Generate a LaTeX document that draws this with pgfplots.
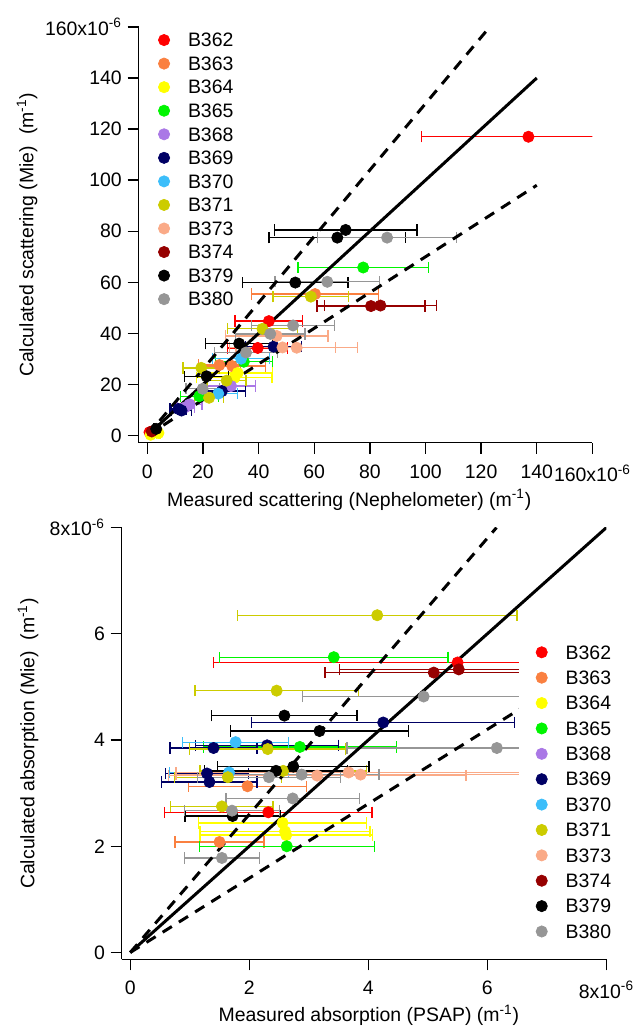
\documentclass[border=0pt]{standalone}
\usepackage{fontspec}
\setmainfont{Liberation Sans}
\usepackage{pgfplots}
\pgfplotsset{compat=1.18}

\definecolor{c362}{RGB}{255,0,0}
\definecolor{c363}{RGB}{250,128,64}
\definecolor{c364}{RGB}{255,255,0}
\definecolor{c365}{RGB}{0,245,0}
\definecolor{c368}{RGB}{170,120,230}
\definecolor{c369}{RGB}{0,0,100}
\definecolor{c370}{RGB}{60,190,250}
\definecolor{c371}{RGB}{204,204,0}
\definecolor{c373}{RGB}{250,170,135}
\definecolor{c374}{RGB}{150,0,0}
\definecolor{c379}{RGB}{0,0,0}
\definecolor{c380}{RGB}{150,150,150}

\pgfplotsset{
  igor/.style={
    scale only axis,
    axis lines*=left,
    tick align=outside,
    major tick length=6.6pt,
    axis line style={line width=0.8pt},
    every tick/.append style={black, line width=0.8pt},
    tick label style={font=\fontsize{11.7}{14}\selectfont},
    xticklabel style={yshift=-3pt},
    label style={font=\fontsize{11.7}{14}\selectfont},
    legend cell align=left,
    legend style={draw=none, fill=white, anchor=north west,
      font=\fontsize{11.7}{14}\selectfont,
      nodes={inner sep=1pt, text depth=0pt},
      /tikz/every odd column/.append style={column sep=10pt}},
  },
  pt/.style={only marks, mark=*, mark size=3.4pt, color=#1,
    mark options={solid, fill=#1, draw=#1},
    error bars/.cd, x dir=both, x explicit, error mark=|,
    error bar style={line width=0.8pt, color=#1, solid},
    error mark options={mark size=3.4pt, line width=0.8pt, color=#1}},
  oneline/.style={black, line width=1.8pt, forget plot},
  dline/.style={black, line width=1.8pt, dash pattern=on 6.5pt off 5pt, forget plot},
}

\begin{document}
\begin{tikzpicture}
\path (0pt,0pt) rectangle (381.6pt,-618.6pt);

% scattering
\begin{axis}[igor,
  at={(83.4pt,-266.4pt)}, anchor=south west,
  width=273pt, height=250.2pt,
  xmin=-3.12, xmax=160, ymin=-2.85, ymax=160,
  xtick={0,20,40,60,80,100,120,140,160},
  xticklabels={0,20,40,60,80,100,120,140,160x10\textsuperscript{-6}},
  ytick={0,20,40,60,80,100,120,140,160},
  yticklabels={0,20,40,60,80,100,120,140,160x10\textsuperscript{-6}},
  xlabel={Measured scattering (Nephelometer) (m\textsuperscript{-1})},
  ylabel={Calculated scattering (Mie)\ \ (m\textsuperscript{-1})},
  xlabel style={at={(axis description cs:0.464,-0.137)}, anchor=center},
  ylabel style={at={(axis description cs:-0.246,0.5)}, anchor=center},
  legend style={at={(axis cs:2.08,159.6)}, row sep=4.0pt},
]
\addplot[pt=c362] coordinates {(137,117) +- (38.4,0) (43.7,44.8) +- (12.2,0) (39.7,34.3) +- (10.8,0) (0.8,1.3) +- (0.3,0)};
\addlegendentry{B362}
\addplot[pt=c363] coordinates {(60.3,55.4) +- (22.8,0) (30.5,27.2) +- (12,0) (25.9,27.6) +- (7.5,0)};
\addlegendentry{B363}
\addplot[pt=c364] coordinates {(32.5,24.5) +- (12.5,0) (31.3,22.6) +- (13.5,0) (1.2,0.3) +- (0.4,0) (4.0,1.0) +- (0.6,0)};
\addlegendentry{B364}
\addplot[pt=c365] coordinates {(77.6,65.8) +- (23.4,0) (34.7,28.9) +- (10.3,0) (18.7,15.4) +- (6.8,0)};
\addlegendentry{B365}
\addplot[pt=c368] coordinates {(30.1,19.4) +- (8.7,0) (15.2,12.2) +- (4.5,0) (13.5,11) +- (3.5,0)};
\addlegendentry{B368}
\addplot[pt=c369] coordinates {(45.4,34.8) +- (10,0) (26.8,17.4) +- (8.4,0) (12.3,9.8) +- (3.5,0) (11.2,10.4) +- (3,0)};
\addlegendentry{B369}
\addplot[pt=c370] coordinates {(33.7,30.1) +- (10.3,0) (25.5,16.4) +- (7,0)};
\addlegendentry{B370}
\addplot[pt=c371] coordinates {(58.8,54.4) +- (13.6,0) (41.4,41.8) +- (12.5,0) (19.4,26.5) +- (6.6,0) (28.5,21.5) +- (7,0) (22.2,14.8) +- (5.3,0)};
\addlegendentry{B371}
\addplot[pt=c373] coordinates {(46.5,39) +- (18.5,0) (48.6,34.5) +- (19,0) (53.7,34.4) +- (21.8,0)};
\addlegendentry{B373}
\addplot[pt=c374] coordinates {(80.4,50.7) +- (19.4,0) (83.8,50.9) +- (20.2,0) (1.6,1.6) +- (0.5,0)};
\addlegendentry{B374}
\addplot[pt=c379] coordinates {(71.3,80.5) +- (25.6,0) (68.3,77.5) +- (24.6,0) (53.2,59.9) +- (19,0) (33,36) +- (12,0) (21.3,23.2) +- (8,0) (3.2,2.6) +- (0.8,0)};
\addlegendentry{B379}
\addplot[pt=c380] coordinates {(86.2,77.5) +- (25,0) (64.7,60.2) +- (18.8,0) (52.4,43.1) +- (15,0) (44.2,39.8) +- (12.5,0) (35.5,32.5) +- (11.4,0) (19.9,18.3) +- (6,0)};
\addlegendentry{B380}
\addplot[oneline] coordinates {(0,0) (140,140)};
\addplot[dline] coordinates {(0,0) (123.1,160)};
\addplot[dline] coordinates {(0,0) (140,98)};
\end{axis}

% absorption
\begin{axis}[igor,
  at={(73.2pt,-577.2pt)}, anchor=south west,
  width=291.6pt, height=259.8pt,
  xmin=-0.144, xmax=8, ymin=-0.131, ymax=8,
  xtick={0,2,4,6,8},
  xticklabels={0,2,4,6,8x10\textsuperscript{-6}},
  ytick={0,2,4,6,8},
  yticklabels={0,2,4,6,8x10\textsuperscript{-6}},
  xlabel={Measured absorption (PSAP) (m\textsuperscript{-1})},
  ylabel={Calculated absorption (Mie)\ \ (m\textsuperscript{-1})},
  xlabel style={at={(axis description cs:0.51,-0.129)}, anchor=center},
  ylabel style={at={(axis description cs:-0.193,0.5)}, anchor=center},
  legend style={at={(axis cs:6.52,5.88)}, row sep=5.1pt, inner xsep=10.5pt},
]
\addplot[pt=c362] coordinates {(5.5,5.46) +- (4.1,0) (2.32,2.64) +- (1.74,0)};
\addlegendentry{B362}
\addplot[pt=c363] coordinates {(1.97,3.13) +- (0.99,0) (1.5,2.08) +- (0.75,0)};
\addlegendentry{B363}
\addplot[pt=c364] coordinates {(2.56,2.44) +- (1.41,0) (2.6,2.28) +- (1.43,0) (2.62,2.21) +- (1.45,0)};
\addlegendentry{B364}
\addplot[pt=c365] coordinates {(3.42,5.56) +- (1.92,0) (2.85,3.87) +- (1.62,0) (2.63,2.0) +- (1.47,0)};
\addlegendentry{B365}
\addlegendimage{pt=c368}
\addlegendentry{B368}
\addplot[pt=c369] coordinates {(4.25,4.33) +- (2.21,0) (1.40,3.85) +- (0.73,0) (2.3,3.9) +- (1.2,0) (1.29,3.37) +- (0.7,0) (1.33,3.21) +- (0.8,0)};
\addlegendentry{B369}
\addplot[pt=c370] coordinates {(1.77,3.96) +- (0.89,0) (1.66,3.39) +- (1.0,0)};
\addlegendentry{B370}
\addplot[pt=c371] coordinates {(4.15,6.35) +- (2.35,0) (2.46,4.93) +- (1.37,0) (2.31,3.83) +- (1.31,0) (2.57,3.42) +- (1.4,0) (1.64,3.3) +- (0.9,0) (1.54,2.75) +- (0.86,0)};
\addlegendentry{B371}
\addplot[pt=c373] coordinates {(3.14,3.33) +- (2.5,0) (3.67,3.39) +- (2.9,0) (3.87,3.35) +- (3.1,0)};
\addlegendentry{B373}
\addplot[pt=c374] coordinates {(5.52,5.33) +- (2.0,0) (5.1,5.27) +- (1.83,0)};
\addlegendentry{B374}
\addplot[pt=c379] coordinates {(2.59,4.46) +- (1.22,0) (3.18,4.17) +- (1.5,0) (2.74,3.5) +- (1.27,0) (2.45,3.42) +- (1.2,0) (1.72,2.57) +- (0.8,0)};
\addlegendentry{B379}
\addplot[pt=c380] coordinates {(4.93,4.82) +- (2.04,0) (6.16,3.85) +- (2.52,0) (2.33,3.3) +- (1.2,0) (2.88,3.35) +- (1.3,0) (2.73,2.9) +- (1.12,0) (1.71,2.67) +- (0.8,0) (1.54,1.78) +- (0.63,0)};
\addlegendentry{B380}
\addplot[oneline] coordinates {(0,0) (8,8)};
\addplot[dline] coordinates {(0,0) (6.154,8)};
\addplot[dline] coordinates {(0,0) (8,5.6)};
\end{axis}
\end{tikzpicture}
\end{document}
